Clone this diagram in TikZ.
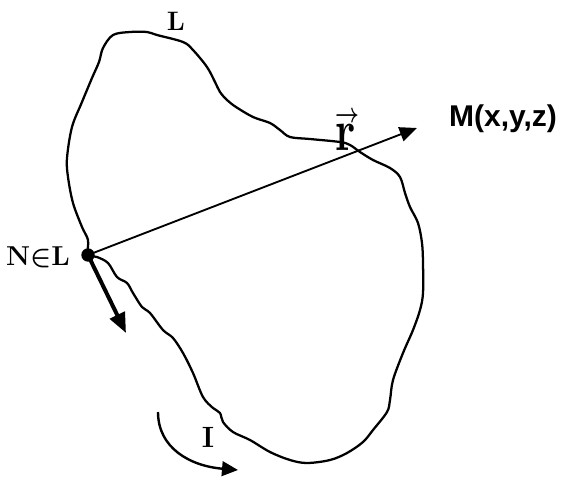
\documentclass[tikz,border=0pt]{standalone}
\usepackage{amsmath,amssymb}
\usepackage{fontspec}
\usepackage{tikz}
\usetikzlibrary{arrows.meta,positioning,calc}
\newfontfamily\arialbf{Liberation Sans}[BoldFont={Liberation Sans Bold}]
\tikzset{
  contour/.style={black, line width=1.7pt, line join=round},
  vecarr/.style={-{Triangle[length=13pt, width=11pt]}, black, line width=1.4pt},
  tanarr/.style={-{Triangle[length=15pt, width=12pt]}, black, line width=3pt},
  curarr/.style={-{Triangle[length=12pt, width=11pt]}, black, line width=1.8pt},
  dot/.style={circle, fill=black, inner sep=0pt, minimum size=10pt},
  lbl/.style={anchor=base, inner sep=0pt},
}

\begin{document}
\begin{tikzpicture}[x=0.75pt, y=-0.75pt]
    \useasboundingbox (0,0) rectangle (567,476);
    \draw[contour] plot[smooth cycle, tension=0.55] coordinates {
      (88,255) (97,257) (108,263) (117,277) (127,283) (133,293) (142,307)
      (150,313) (163,330) (173,338) (183,353) (193,373) (203,397) (213,408)
      (220,413) (223,422) (233,432) (250,440) (270,452) (290,460) (307,463)
      (330,460) (347,453) (363,442) (373,430) (387,412) (390,400) (393,380)
      (403,353) (413,330) (420,310) (423,293) (423,263) (422,243) (418,223)
      (410,207) (405,193) (400,177) (390,168) (373,160) (360,152) (350,145)
      (340,142) (310,139) (290,137) (280,130) (270,123) (253,117) (236,107)
      (227,100) (220,92) (215,82) (207,67) (193,50) (183,42) (157,35)
      (147,32) (130,32) (113,35) (103,48) (99,62) (92,78) (82,102)
      (72,127) (67,158) (68,177) (73,203) (82,227) (88,240)};
    \node[dot] (N) at (88,255) {};
    \coordinate (rtip) at (417,128);
    \coordinate (ttip) at (126,333);
    \coordinate (Istart) at (158,412);
    \coordinate (Itip) at (238,470);
    \draw[vecarr] (N.center) -- (rtip);
    \draw[tanarr] (N.center) -- (ttip);
    \draw[curarr] (Istart) .. controls (158,448) and (190,466) .. (Itip);
    \node[lbl] (lblL) at (176,30) {\fontsize{20}{22}\selectfont\bfseries L};
    \node[lbl] (lblN) at (38,265) {\fontsize{20.5}{22}\selectfont\bfseries N$\boldsymbol{\in}$L};
    \node[lbl] (lblr) at (347,150) {\scalebox{0.75}[1]{\fontsize{44}{48}\selectfont
      \ooalign{\hfil\raisebox{21pt}{\fontsize{20}{20}\selectfont$\boldsymbol{\rightarrow}$}\hfil\cr\bfseries r\cr}}};
    \node[lbl] (lblM) at (503,126) {\fontsize{22.5}{26}\selectfont\arialbf\bfseries M(x,y,z)};
    \node[lbl] (lblI) at (208,447) {\fontsize{22}{24}\selectfont\bfseries I};
  \end{tikzpicture}
\end{document}
